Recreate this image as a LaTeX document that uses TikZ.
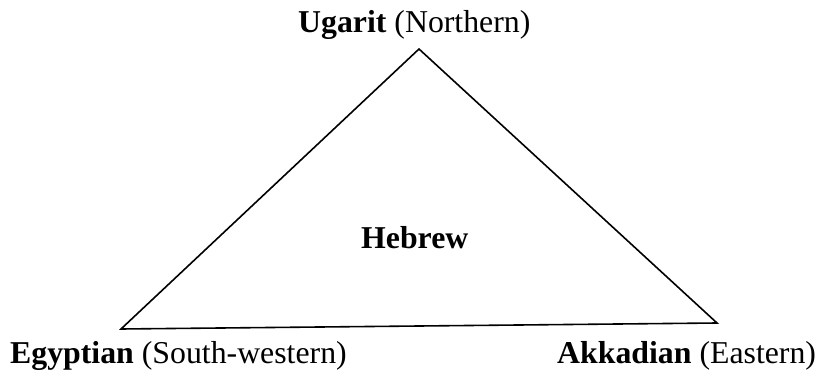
\documentclass[tikz,border=0pt]{standalone}
\usepackage{fontspec}
\setmainfont{Liberation Serif}
\begin{document}
\begin{tikzpicture}[x=1pt,y=-1pt,
  lbl/.style={anchor=base west,inner sep=0pt,font=\fontsize{31.8}{36}\selectfont},
  edge/.style={line width=1.6pt,line join=miter}]
\useasboundingbox (0,0) rectangle (821,374);
\coordinate (top) at (419,49);
\coordinate (bl) at (121,329);
\coordinate (br) at (717,323);
\draw[edge] (top) -- (br) -- (bl) -- cycle;
\node[lbl] (ugarit) at (298,33) {\textbf{Ugarit} (Northern)};
\node[lbl] (hebrew) at (361,248) {\textbf{Hebrew}};
\node[lbl] (egypt) at (10,363) {\textbf{Egyptian} (South-western)};
\node[lbl] (akkad) at (557,363) {\textbf{Akkadian} (Eastern)};
\end{tikzpicture}
\end{document}
